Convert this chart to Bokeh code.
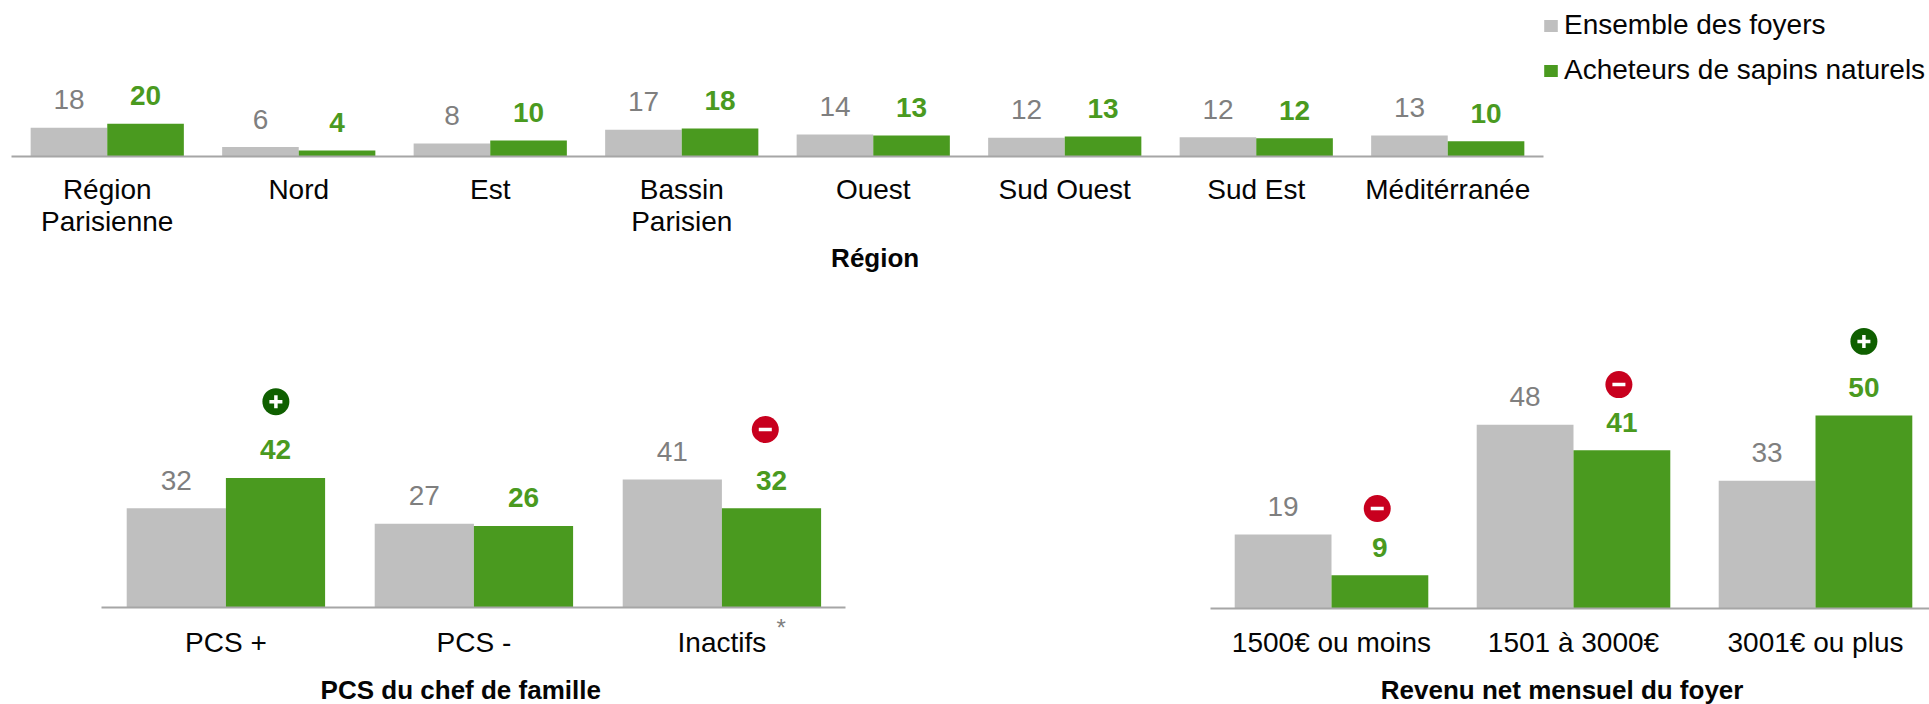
from bokeh.plotting import figure
from bokeh.layouts import column, row
from bokeh.models import ColumnDataSource, Range1d, FixedTicker, Legend, LegendItem
from bokeh.core.properties import value
from bokeh.embed import file_html
from bokeh.resources import INLINE

# ---- data ----
series_names = ["Ensemble des foyers", "Acheteurs de sapins naturels"]

region_cats = ["Région\nParisienne", "Nord", "Est", "Bassin\nParisien", "Ouest", "Sud Ouest", "Sud Est", "Méditérranée"]
region_all = [17.7, 5.8, 8.0, 16.5, 13.6, 11.5, 11.9, 13.0]
region_buy = [20.2, 3.7, 9.9, 17.3, 13.0, 12.3, 11.3, 9.4]
region_all_labels = ["18", "6", "8", "17", "14", "12", "12", "13"]
region_buy_labels = ["20", "4", "10", "18", "13", "13", "12", "10"]

pcs_cats = ["PCS +", "PCS -", "Inactifs"]
pcs_all = [32.0, 27.0, 41.3]
pcs_buy = [41.8, 26.3, 32.0]
pcs_all_labels = ["32", "27", "41"]
pcs_buy_labels = ["42", "26", "32"]

rev_cats = ["1500€ ou moins", "1501 à 3000€", "3001€ ou plus"]
rev_all = [19.2, 47.6, 33.1]
rev_buy = [8.6, 41.0, 50.0]
rev_all_labels = ["19", "48", "33"]
rev_buy_labels = ["9", "41", "50"]

# ---- styles ----
GREY = "#bfbfbf"
GREEN = "#4a9a1f"
GREY_TXT = "#7f7f7f"
AXIS = "#a6a6a6"
INK = "#050505"
PLUS = "#0f5f00"
MINUS = "#c8001e"
FONT = "Liberation Sans"
BAR_W = 0.4


def panel(cats, a, b, la, lb, title, title_x, title_dy, w, h, ax_left, step,
          base_y, px_per_unit, ax_end, standoff):
    """w,h: figure size; ax_left: px of axis start in the figure; base_y: px of baseline."""
    n = len(cats)
    xs = list(range(n))
    x0 = -0.5 - ax_left / step
    y_top = base_y / px_per_unit
    y_bot = -(h - base_y) / px_per_unit
    p = figure(width=w, height=h,
               x_range=Range1d(x0, x0 + w / step), y_range=Range1d(y_bot, y_top),
               min_border=0, toolbar_location=None, output_backend="svg",
               background_fill_color="white", border_fill_color="white")
    p.outline_line_color = None
    p.grid.visible = False
    p.yaxis.visible = False
    p.xaxis.fixed_location = 0
    ax = p.xaxis[0]
    ax.bounds = (-0.5, ax_end)
    ax.ticker = FixedTicker(ticks=xs)
    ax.major_label_overrides = {i: c for i, c in enumerate(cats)}
    ax.major_tick_line_color = None
    ax.minor_tick_line_color = None
    ax.axis_line_color = AXIS
    ax.axis_line_width = 2
    ax.major_label_text_font = FONT
    ax.major_label_text_font_size = "28px"
    ax.major_label_text_color = INK
    ax.major_label_text_line_height = 1.05
    ax.major_label_standoff = standoff

    src = ColumnDataSource(dict(
        xa=[x - BAR_W / 2 for x in xs], xb=[x + BAR_W / 2 for x in xs],
        a=a, b=b, la=la, lb=lb))
    ra = p.vbar(x="xa", top="a", width=BAR_W, source=src, fill_color=GREY, line_color=None)
    rb = p.vbar(x="xb", top="b", width=BAR_W, source=src, fill_color=GREEN, line_color=None)
    p.text(x="xa", y="a", text="la", source=src, text_font_size="28px", text_color=GREY_TXT,
           text_align="center", text_baseline="middle", y_offset=-28, text_font=value(FONT))
    p.text(x="xb", y="b", text="lb", source=src, text_font_size="28px", text_color=GREEN,
           text_font_style="bold", text_align="center", text_baseline="middle", y_offset=-28,
           text_font=value(FONT))
    p.text(x=[title_x], y=[-title_dy / px_per_unit], text=[title], text_font=value(FONT),
           text_font_size="26px", text_font_style="bold", text_color=INK,
           text_align="center", text_baseline="middle")
    return p, ra, rb


def icons(p, xs, ys, sign):
    color = PLUS if sign == "+" else MINUS
    src = ColumnDataSource(dict(x=xs, y=ys))
    p.scatter(x="x", y="y", source=src, marker="circle", size=27, fill_color=color, line_color=None)
    p.scatter(x="x", y="y", source=src, marker="dash" if sign == "-" else "cross", size=13,
              line_color="white", line_width=3.5)


top, ra, rb = panel(region_cats, region_all, region_buy, region_all_labels, region_buy_labels,
                    "Région", 4.01, 101, 1929, 290, 11, 191.5, 156, 1.62, 7.5, 11)
top.add_layout(Legend(
    items=[LegendItem(label=series_names[0], renderers=[ra]),
           LegendItem(label=series_names[1], renderers=[rb])],
    location=(1542, 204), orientation="vertical", glyph_width=17, glyph_height=15,
    label_text_font=FONT, label_text_font_size="28px", label_text_color=INK,
    label_standoff=5, spacing=13, margin=0, padding=0, border_line_color=None,
    background_fill_alpha=0, label_height=32))

left, _, _ = panel(pcs_cats, pcs_all, pcs_buy, pcs_all_labels, pcs_buy_labels,
                   "PCS du chef de famille", 0.947, 82, 1000, 414, 101.4, 248, 317, 3.1, 2.5, 13)
icons(left, [0.2016], [66.4], "+")
icons(left, [2.175], [57.4], "-")
left.text(x=[2.239], y=[-20 / 3.1], text=["*"], text_font=value(FONT), text_font_size="24px",
          text_color=GREY_TXT, text_align="center", text_baseline="middle")

right, _, _ = panel(rev_cats, rev_all, rev_buy, rev_all_labels, rev_buy_labels,
                    "Revenu net mensuel du foyer", 0.953, 81, 929, 414, 210, 242, 318, 3.86, 2.6, 12)
icons(right, [0.189, 1.1876], [25.9, 58.0], "-")
icons(right, [2.2], [69.2], "+")

page = column(top, row(left, right, spacing=0), spacing=0)
open("out.html", "w").write(file_html(page, INLINE))
